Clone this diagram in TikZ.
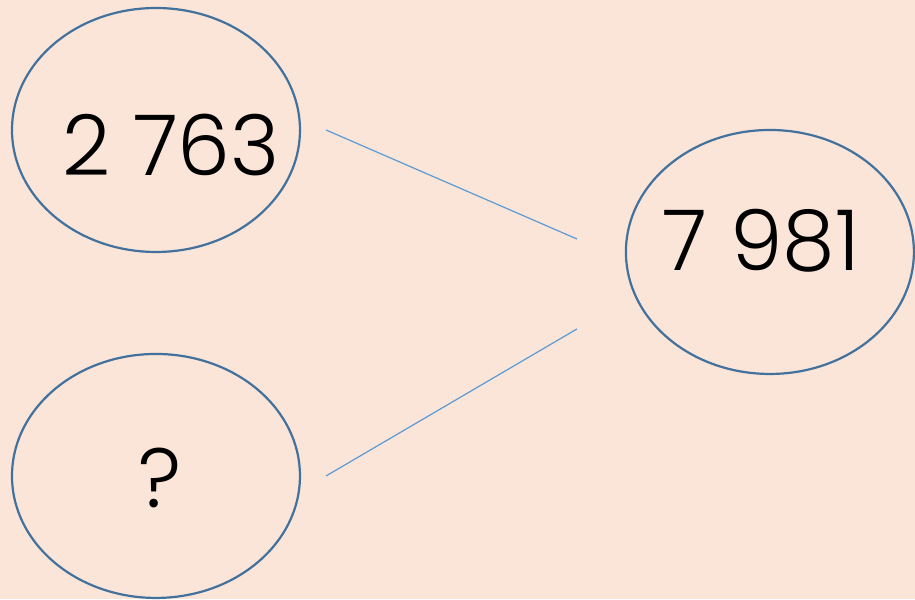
\documentclass[tikz,border=0pt]{standalone}
\usepackage{fontspec}
\setmainfont{Poppins}[UprightFont=* Light]
\usetikzlibrary{shapes.geometric}
\definecolor{fondo}{HTML}{FBE5D8}
\definecolor{borde}{HTML}{41719C}
\definecolor{linea}{HTML}{5B9BD5}
\tikzset{
  globo/.style={ellipse, draw=borde, line width=2.2pt, minimum width=288pt, minimum height=244pt, inner sep=0pt},
  cifra/.style={font=\fontsize{84}{100}\selectfont, inner sep=0pt},
}
\begin{document}
\begin{tikzpicture}[x=1pt,y=-1pt]
            \fill[fondo] (0,0) rectangle (915,599);
            \node[globo] (sumando) at (156,130) {};
            \node[globo] (falta) at (156,476) {};
            \node[globo] (total) at (770,252) {};
            \node[cifra] (tsumando) at (171,145) {2 763};
            \node[cifra] (tfalta) at (160,478) {?};
            \node[cifra] (ttotal) at (761,241) {7 981};
            \coordinate (c1) at (577,239);
            \coordinate (c2) at (577,329);
            \draw[linea, line width=1.2pt] ([xshift=25pt]sumando.east) -- (c1);
            \draw[linea, line width=1.2pt] ([xshift=25pt]falta.east) -- (c2);
        \end{tikzpicture}
\end{document}
